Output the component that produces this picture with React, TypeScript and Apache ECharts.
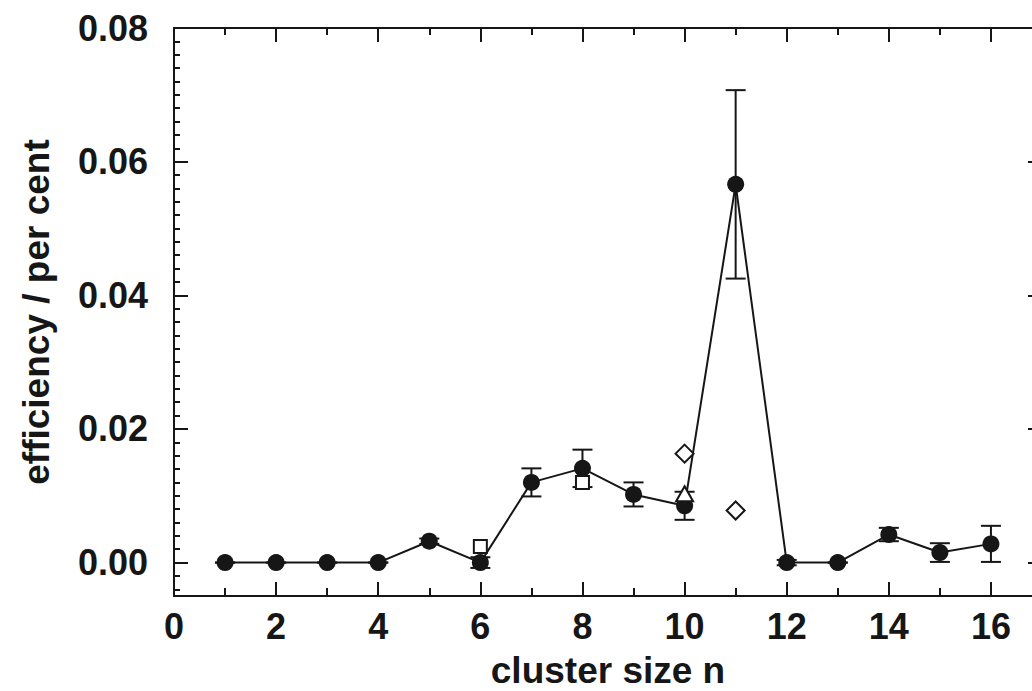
import React, { useEffect, useRef } from "react";
import * as echarts from "echarts";

// ---- data ----
const clusterSize = [1, 2, 3, 4, 5, 6, 7, 8, 9, 10, 11, 12, 13, 14, 15, 16];
const efficiency = [0, 0, 0, 0, 0.0032, 0, 0.012, 0.0141, 0.0102, 0.0085, 0.0566, 0, 0, 0.0042, 0.0015, 0.0028];
const errorPM = [0, 0, 0, 0, 0.0004, 0.0008, 0.0021, 0.0028, 0.0018, 0.0021, 0.0141, 0.0004, 0, 0.001, 0.0014, 0.0027];
const squaresN = [6, 8];
const squaresVal = [0.0024, 0.012];
const trianglesN = [10];
const trianglesVal = [0.0103];
const diamondsN = [10, 11];
const diamondsVal = [0.0163, 0.0078];

const xMajorTicks = [0, 2, 4, 6, 8, 10, 12, 14, 16];
const xMinorTicks = [1, 3, 5, 7, 9, 11, 13, 15];
const yMajorTicks = [0, 0.02, 0.04, 0.06, 0.08];
const yMinorStep = 0.002;
const xMin = 0;
const xMax = 17;
const yMin = -0.005;
const yMax = 0.08;

const INK = "#161616";
const FONT = "'Liberation Sans', Arial, sans-serif";

function buildYMinor(): number[] {
  const out: number[] = [];
  const k0 = Math.ceil(yMin / yMinorStep - 1e-9);
  const k1 = Math.floor(yMax / yMinorStep + 1e-9);
  for (let k = k0; k <= k1; k++) {
    const v = +(k * yMinorStep).toFixed(4);
    if (!yMajorTicks.some((m) => Math.abs(m - v) < 1e-9)) out.push(v);
  }
  return out;
}

export default function App() {
  const ref = useRef<HTMLDivElement>(null);

  useEffect(() => {
    document.body.style.margin = "0";
    document.body.style.overflow = "hidden";
    if (!ref.current) return;
    const chart = echarts.init(ref.current, undefined, { renderer: "svg" });
    const yMinor = buildYMinor();

    const lineStyle = { color: INK, width: 2 };
    const mkX = (position: string, ticks: number[], len: number, main: boolean) => ({
      type: "value",
      position,
      min: xMin,
      max: xMax,
      axisLine: { show: main, onZero: false, lineStyle },
      axisTick: { show: true, inside: true, length: len, lineStyle, customValues: ticks },
      axisLabel: main && position === "bottom"
        ? {
            show: true,
            customValues: xMajorTicks,
            margin: 12,
            color: INK,
            fontSize: 36,
            fontWeight: "bold",
            fontFamily: FONT,
          }
        : { show: false },
      splitLine: { show: false },
      ...(main && position === "bottom"
        ? {
            name: "cluster size n",
            nameLocation: "middle",
            nameGap: 56,
            nameTextStyle: { color: INK, fontSize: 37, fontWeight: "bold", fontFamily: FONT },
          }
        : {}),
    });
    const mkY = (position: string, ticks: number[], len: number, main: boolean) => ({
      type: "value",
      position,
      min: yMin,
      max: yMax,
      axisLine: { show: main, onZero: false, lineStyle },
      axisTick: { show: true, inside: true, length: len, lineStyle, customValues: ticks },
      axisLabel: main && position === "left"
        ? {
            show: true,
            customValues: yMajorTicks,
            margin: 26,
            color: INK,
            fontSize: 36,
            fontWeight: "bold",
            fontFamily: FONT,
            formatter: (v: number) => v.toFixed(2),
          }
        : { show: false },
      splitLine: { show: false },
      ...(main && position === "left"
        ? {
            name: "efficiency / per cent",
            nameLocation: "middle",
            nameGap: 119,
            nameTextStyle: { color: INK, fontSize: 37, fontWeight: "bold", fontFamily: FONT },
          }
        : {}),
    });

    const mainData = clusterSize.map((n, i) => [n, efficiency[i]]);
    const errData = clusterSize.map((n, i) => [n, efficiency[i] - errorPM[i], efficiency[i] + errorPM[i]]);

    const openStyle = { color: "#ffffff", borderColor: INK, borderWidth: 2, opacity: 1 };

    chart.setOption({
      animation: false,
      backgroundColor: "#ffffff",
      grid: { left: 174, top: 28, right: -10, bottom: 95, containLabel: false, outerBoundsMode: "none" },
      xAxis: [
        mkX("bottom", xMajorTicks, 14, true),
        mkX("bottom", xMinorTicks, 8, false),
        mkX("top", xMajorTicks, 14, true),
        mkX("top", xMinorTicks, 7, false),
      ],
      yAxis: [
        mkY("left", yMajorTicks, 14, true),
        mkY("left", yMinor, 6, false),
        mkY("right", yMajorTicks, 14, true),
        mkY("right", yMinor, 6, false),
      ],
      series: [
        {
          type: "custom",
          xAxisIndex: 0,
          yAxisIndex: 0,
          z: 2,
          data: errData,
          encode: { x: 0, y: [1, 2] },
          renderItem: (params: any, api: any) => {
            const x = api.value(0);
            const lo = api.value(1);
            const hi = api.value(2);
            const top = api.coord([x, hi]);
            const bot = api.coord([x, lo]);
            const hw = 10;
            const st = { stroke: INK, lineWidth: 2 };
            return {
              type: "group",
              children: [
                { type: "line", shape: { x1: top[0], y1: top[1], x2: bot[0], y2: bot[1] }, style: st },
                { type: "line", shape: { x1: top[0] - hw, y1: top[1], x2: top[0] + hw, y2: top[1] }, style: st },
                { type: "line", shape: { x1: bot[0] - hw, y1: bot[1], x2: bot[0] + hw, y2: bot[1] }, style: st },
              ],
            };
          },
        },
        {
          type: "line",
          xAxisIndex: 0,
          yAxisIndex: 0,
          z: 3,
          data: mainData,
          symbol: "circle",
          symbolSize: 17,
          lineStyle: { color: INK, width: 2 },
          itemStyle: { color: INK, opacity: 1 },
        },
        {
          type: "scatter",
          xAxisIndex: 0,
          yAxisIndex: 0,
          z: 4,
          symbol: "rect",
          symbolSize: 13,
          data: squaresN.map((n, i) => [n, squaresVal[i]]),
          itemStyle: openStyle,
        },
        {
          type: "scatter",
          xAxisIndex: 0,
          yAxisIndex: 0,
          z: 4,
          symbol: "triangle",
          symbolSize: [17, 15],
          data: trianglesN.map((n, i) => [n, trianglesVal[i]]),
          itemStyle: openStyle,
        },
        {
          type: "scatter",
          xAxisIndex: 0,
          yAxisIndex: 0,
          z: 4,
          symbol: "diamond",
          symbolSize: [18, 18],
          data: diamondsN.map((n, i) => [n, diamondsVal[i]]),
          itemStyle: openStyle,
        },
      ],
    });

    return () => chart.dispose();
  }, []);

  return <div ref={ref} style={{ width: 1032, height: 691 }} />;
}
